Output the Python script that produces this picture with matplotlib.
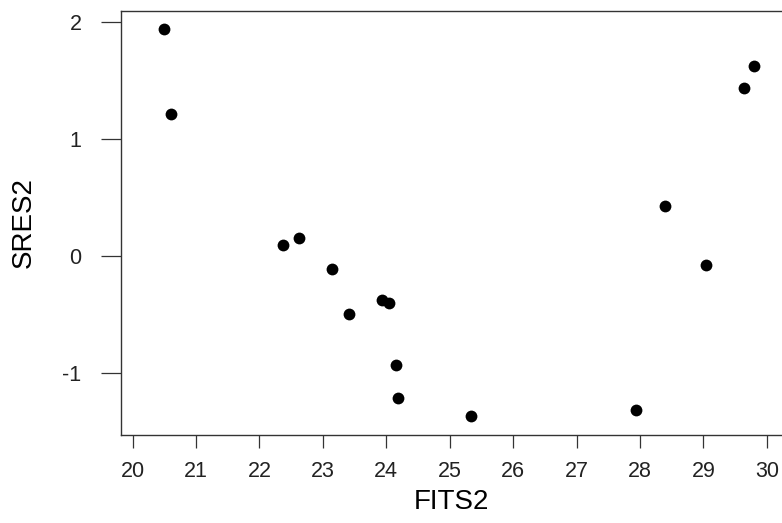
import matplotlib
matplotlib.use('Agg')
import matplotlib.pyplot as plt

# fitted values and standardized residuals
fits2 = [20.49, 20.60, 22.37, 22.63, 23.15, 23.42, 23.93, 24.04,
         24.15, 24.19, 25.34, 27.93, 28.40, 29.04, 29.64, 29.80]
sres2 = [1.94, 1.21, 0.09, 0.15, -0.11, -0.50, -0.38, -0.40,
         -0.93, -1.21, -1.37, -1.32, 0.43, -0.08, 1.44, 1.62]
x_ticks = [20, 21, 22, 23, 24, 25, 26, 27, 28, 29, 30]
y_ticks = [-1, 0, 1, 2]

plt.rcParams['font.family'] = ['Liberation Sans', 'DejaVu Sans']
plt.rcParams['axes.unicode_minus'] = False

fig = plt.figure(figsize=(7.82, 5.23), dpi=100)
ax = fig.add_axes([121 / 782, 1 - 435 / 523, 1 - 121 / 782, (435 - 11) / 523])

ax.plot(fits2, sres2, 'o', color='black', markersize=8.5, markeredgewidth=0)

ax.set_xlim(19.817, 30.24)
ax.set_ylim(-1.53, 2.094)
ax.set_xticks(x_ticks)
ax.set_yticks(y_ticks)
ax.tick_params(axis='x', direction='out', length=9.5, width=0.9, pad=9,
               labelsize=15.5, labelcolor='#222222', color='#333333')
ax.tick_params(axis='y', direction='out', length=14.4, width=0.9, pad=14,
               labelsize=15.5, labelcolor='#222222', color='#333333')

for side in ['left', 'bottom', 'top']:
    ax.spines[side].set_color('#333333')
    ax.spines[side].set_linewidth(1.0)
ax.spines['right'].set_visible(False)

ax.set_xlabel('FITS2', fontsize=20)
ax.set_ylabel('SRES2', fontsize=20)
ax.xaxis.set_label_coords(0.5, -0.128)
ax.yaxis.set_label_coords(-0.127, 0.5)

fig.savefig('out.png', dpi=100)
